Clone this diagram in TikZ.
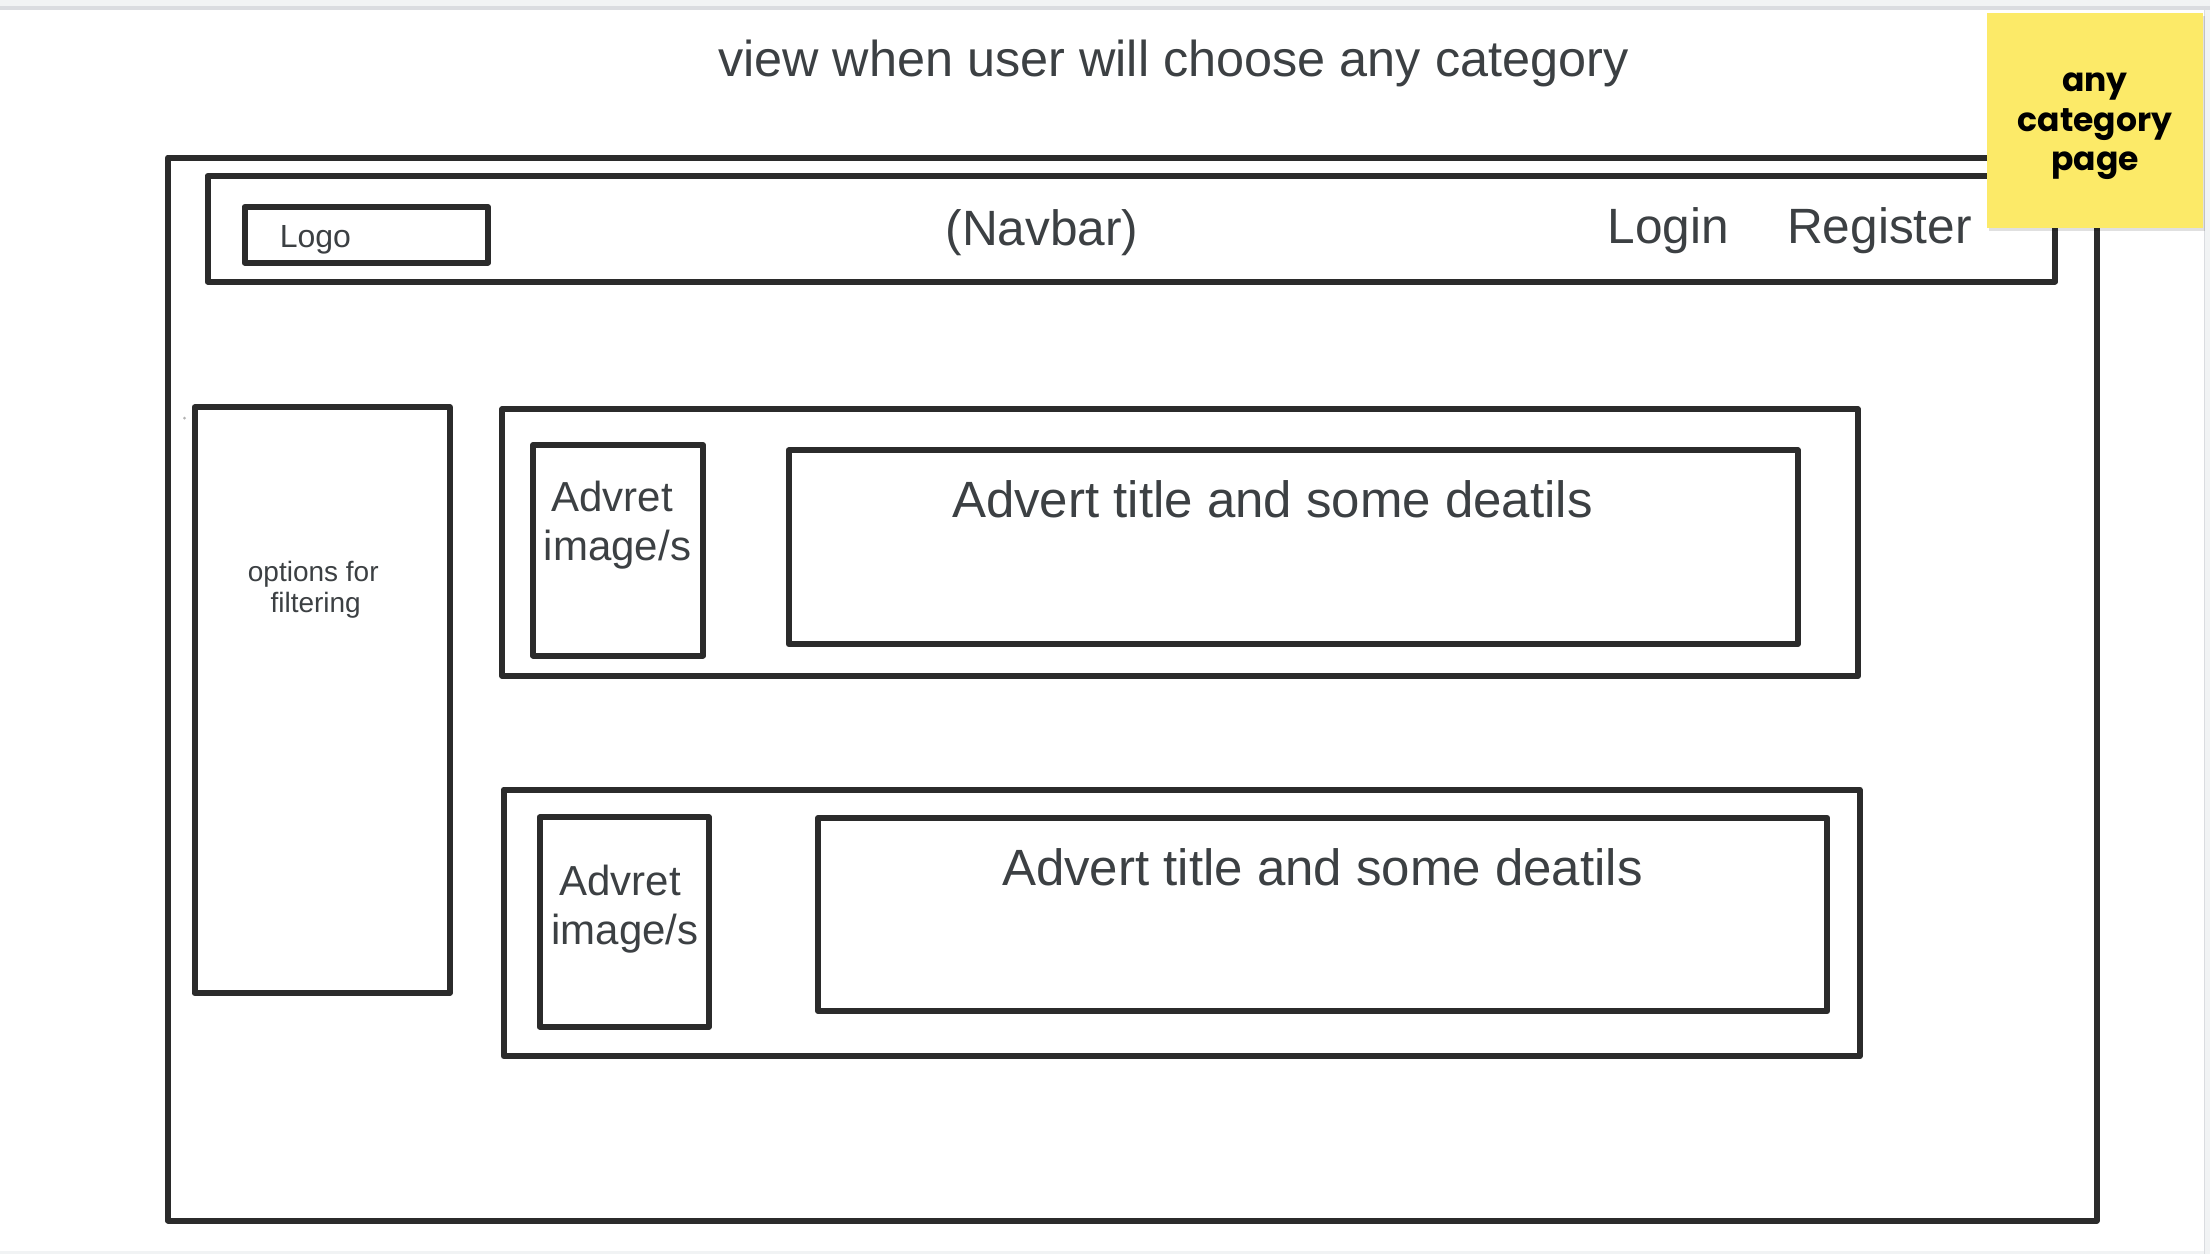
\documentclass[tikz,border=0pt]{standalone}
\usepackage{fontspec}
\setmainfont{Liberation Sans}
\newfontfamily\notefont{Poppins}
\definecolor{ink}{HTML}{2B2B2B}
\definecolor{txt}{HTML}{3C4043}
\definecolor{note}{HTML}{FCEA68}
\definecolor{pagebg}{HTML}{F1F3F4}
\definecolor{rulegray}{HTML}{DADCE0}
\tikzset{
  wire/.style={draw=ink,line width=3pt,line join=round},
  lbl/.style={text=txt,inner sep=0pt,anchor=base},
  lblw/.style={text=txt,inner sep=0pt,anchor=base west},
  notelbl/.style={text=black,inner sep=0pt,anchor=base,font=\notefont\bfseries\fontsize{16.5}{19}\selectfont},
  big/.style={font=\fontsize{25.5}{30}\selectfont},
  mid/.style={font=\fontsize{24.8}{29}\selectfont},
  med/.style={font=\fontsize{21}{25}\selectfont},
  sml/.style={font=\fontsize{14}{17}\selectfont},
}
\begin{document}
\begin{tikzpicture}[x=0.5pt,y=-0.5pt]
\useasboundingbox (0,0) rectangle (2210,1254);
% page background
\fill[pagebg] (0,0) rectangle (2210,1254);
\fill[white] (0,10) rectangle (2204,1251);
\fill[rulegray] (0,6) rectangle (2210,10);
\draw[rulegray,line width=0.5pt] (2204.5,10) -- (2204.5,1254);
% stray dot
\fill[gray!60] (184.5,418) circle (1.5);
% boxes
\draw[wire] (168,157.5) rectangle (2096.5,1220.5);
\draw[wire] (207.5,176) rectangle (2055,281.5);
\draw[wire] (244.5,207) rectangle (488,262.5);
\draw[wire] (194.5,407.3) rectangle (449.7,993);
\draw[wire] (502.2,409.3) rectangle (1858,676);
\draw[wire] (533,445) rectangle (703,655.5);
\draw[wire] (788.7,450.3) rectangle (1798,644);
\draw[wire] (503.7,789.5) rectangle (1859.7,1056.2);
\draw[wire] (539.7,817.3) rectangle (709,1026.7);
\draw[wire] (818,818) rectangle (1827.3,1011);
% texts
\node[lblw,font=\fontsize{25.2}{30}\selectfont] (title) at (717.7,76.7) {view when user will choose any category};
\node[lbl,mid] (navbar) at (1042,245) {(Navbar)};
\node[lblw,mid] (login) at (1607.3,243.3) {Login};
\node[lblw,mid] (register) at (1786.7,243.3) {Register};
\node[lblw,font=\fontsize{16}{19}\selectfont] (logo) at (279.4,247) {Logo};
\node[lbl,sml] (filt1) at (313.3,581.7) {options for};
\node[lbl,sml] (filt2) at (315.7,612.3) {filtering};
\node[lbl,med] (img1a) at (612,511.7) {Advret};
\node[lbl,med] (img1b) at (617.5,560) {image/s};
\node[lbl,med] (img2a) at (620,895) {Advret};
\node[lbl,med] (img2b) at (625,944) {image/s};
\node[lblw,big] (det1t) at (951.7,517.3) {Advert title and some deatils};
\node[lblw,big] (det2t) at (1001.7,885) {Advert title and some deatils};
% sticky note
\fill[black,opacity=0.12] (1989,16) rectangle (2205,231);
\fill[note] (1987,13) rectangle (2203,228);
\node[notelbl] (n1) at (2095,91.7) {any};
\node[notelbl] (n2) at (2095,131.7) {category};
\node[notelbl] (n3) at (2095,170) {page};
\end{tikzpicture}
\end{document}
